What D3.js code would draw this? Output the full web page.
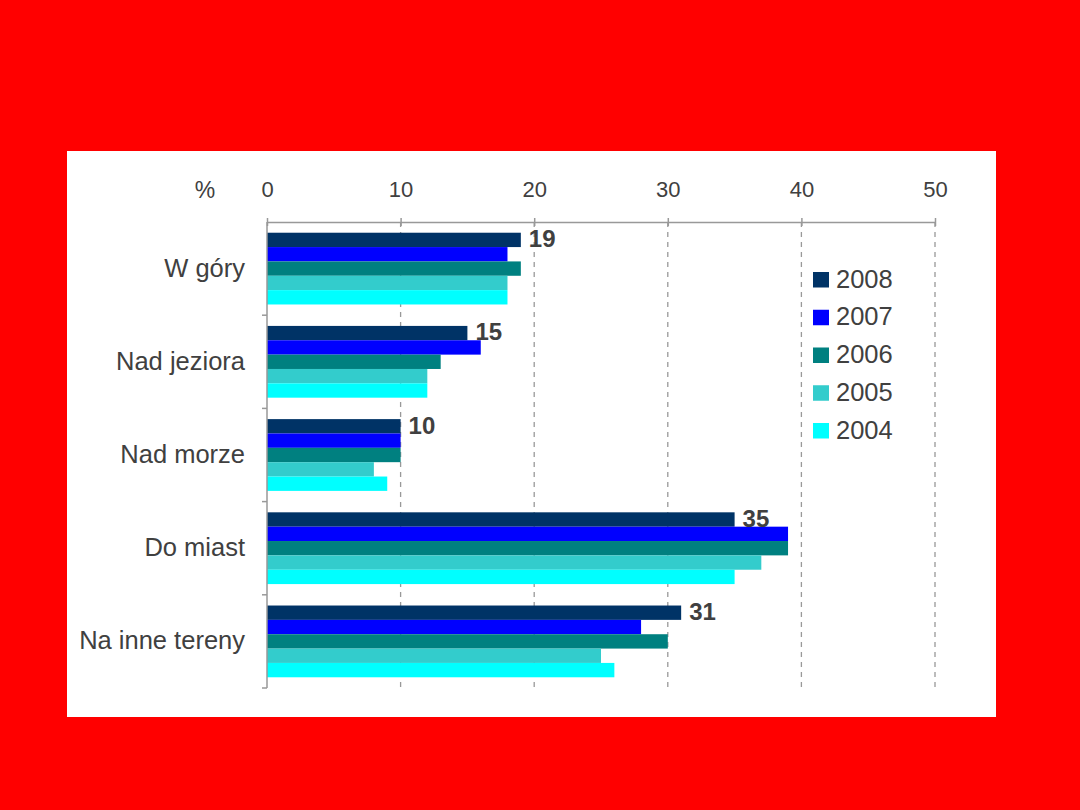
<!DOCTYPE html>
<html><head><meta charset="utf-8">
<script src="https://cdn.jsdelivr.net/npm/d3@7/dist/d3.min.js"></script>
<style>body{margin:0;background:#ff0000;}svg{display:block;}</style>
</head><body>
<script>
const categories = ["W góry","Nad jeziora","Nad morze","Do miast","Na inne tereny"];
const years = ["2008","2007","2006","2005","2004"];
const colors = ["#003366","#0000ff","#008080","#33cccc","#00ffff"];
const v2008 = [19,15,10,35,31];
const v2007 = [18,16,10,39,28];
const v2006 = [19,13,10,39,30];
const v2005 = [18,12,8,37,25];
const v2004 = [18,12,9,35,26];
const series = [v2008,v2007,v2006,v2005,v2004];
const xTicks = [0,10,20,30,40,50];

const FONT="Liberation Sans, Arial, sans-serif";
const W=1080,H=810;
const svg=d3.select("body").append("svg").attr("width",W).attr("height",H);
svg.append("rect").attr("width",W).attr("height",H).attr("fill","#ff0000");
svg.append("rect").attr("x",67).attr("y",151).attr("width",929).attr("height",566).attr("fill","#ffffff");

const x0=267,x1=935,yTop=222,yBot=688;
const x=d3.scaleLinear().domain([0,50]).range([x0,x1]);
const y=d3.scaleBand().domain(categories).range([yTop,yBot]).paddingInner(0.23).paddingOuter(0.115);
const yi=d3.scaleBand().domain(years).range([0,y.bandwidth()]);

// gridlines
svg.append("g").selectAll("line").data(xTicks.filter(d=>d>0)).join("line")
  .attr("x1",d=>x(d)).attr("x2",d=>x(d)).attr("y1",yTop).attr("y2",yBot)
  .attr("stroke","#999").attr("stroke-width",1.3).attr("stroke-dasharray","5,5");

// bars
const g=svg.append("g");
series.forEach((s,si)=>{
  g.selectAll(null).data(categories).join("rect")
    .attr("x",x(0)).attr("y",c=>y(c)+yi(years[si]))
    .attr("width",(c,i)=>x(s[i])-x(0)).attr("height",yi.bandwidth())
    .attr("fill",colors[si]);
});

// top axis
const xa=svg.append("g").attr("transform",`translate(0,${yTop})`)
  .call(d3.axisTop(x).tickValues(xTicks).tickSize(4).tickPadding(21).tickSizeOuter(0));
xa.select(".domain").attr("stroke","#999").attr("stroke-width",1.5);
xa.selectAll(".tick line").attr("stroke","#999").attr("stroke-width",1.5).attr("y2",-4).attr("y1",4);
xa.selectAll("text").attr("font-family",FONT).attr("font-size",22).attr("fill","#404040");

// left axis
svg.append("line").attr("x1",x0).attr("x2",x0).attr("y1",yTop).attr("y2",yBot).attr("stroke","#999").attr("stroke-width",1.5);
const seps=d3.range(categories.length+1).map(i=>yTop+i*(yBot-yTop)/categories.length);
svg.append("g").selectAll("line").data(seps.slice(1)).join("line")
  .attr("x1",x0-5).attr("x2",x0).attr("y1",d=>d).attr("y2",d=>d).attr("stroke","#999").attr("stroke-width",1.5);
svg.append("g").selectAll("text").data(categories).join("text")
  .attr("x",245).attr("y",c=>y(c)+y.bandwidth()/2+8).attr("text-anchor","end")
  .attr("font-family",FONT).attr("font-size",25.5).attr("fill","#404040").text(c=>c);

svg.append("text").attr("x",205).attr("y",198).attr("text-anchor","middle")
  .attr("font-family",FONT).attr("font-size",23).attr("fill","#404040").text("%");

// data labels (2008)
svg.append("g").selectAll("text").data(categories).join("text")
  .attr("x",(c,i)=>x(v2008[i])+8).attr("y",c=>y(c)+yi("2008")+14.5)
  .attr("font-family",FONT).attr("font-size",24).attr("font-weight","bold").attr("fill","#404040")
  .text((c,i)=>v2008[i]);

// legend
const lg=svg.append("g").attr("transform","translate(813,272)");
years.forEach((yr,i)=>{
  lg.append("rect").attr("x",0).attr("y",i*37.75).attr("width",16).attr("height",15.5).attr("fill",colors[i]);
  lg.append("text").attr("x",23).attr("y",i*37.75+15.5).attr("font-family",FONT)
    .attr("font-size",25.5).attr("fill","#404040").text(yr);
});
</script>
</body></html>
